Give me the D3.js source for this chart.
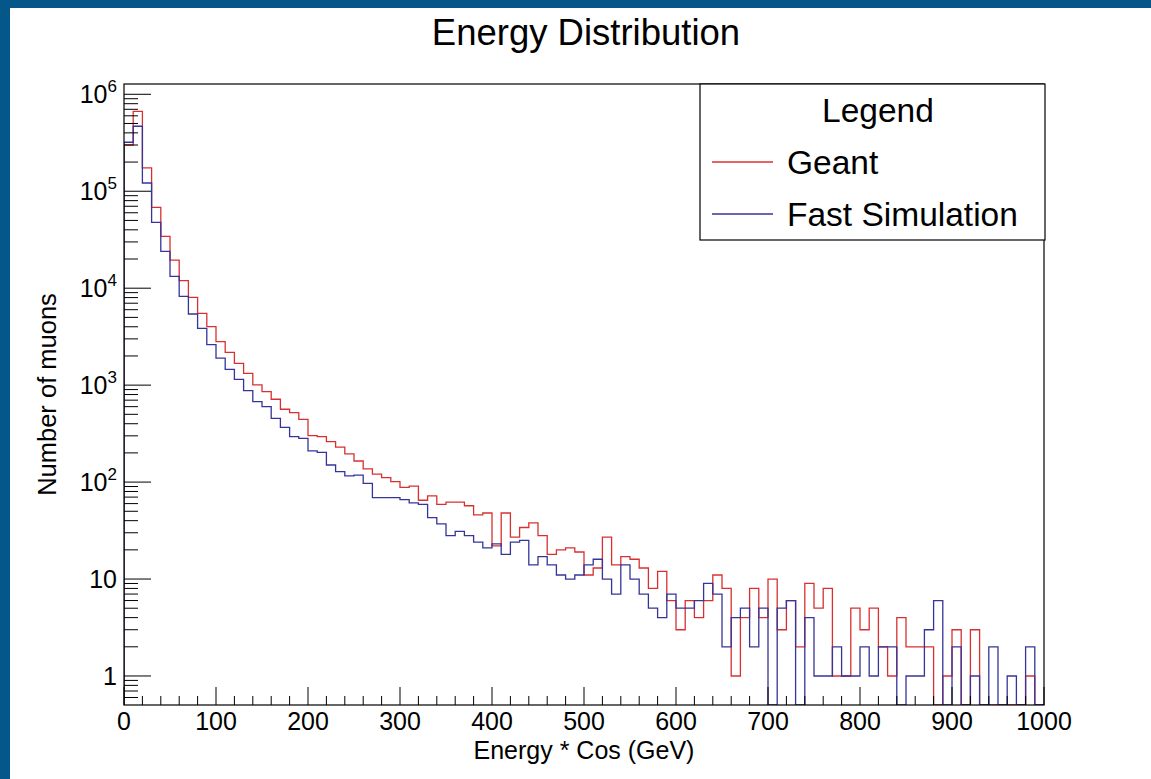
<!DOCTYPE html>
<html><head><meta charset="utf-8">
<script src="https://cdn.jsdelivr.net/npm/d3@7"></script>
<style>body{margin:0;background:#fff} svg{display:block} text{font-family:"Liberation Sans",Arial,Helvetica,sans-serif;fill:#000}</style>
</head><body><svg id="c" width="1151" height="779"></svg>
<script>
// ---- data ----
const binWidth = 10;
const geant = [
 300000, 667000, 174000, 68200, 34300, 19500, 11950, 8050, 5510, 4010,
 2807, 2181, 1680, 1325, 1004, 857, 715, 564, 521, 444,
 302, 294, 261, 229, 195, 165, 137, 121, 111, 101,
 88, 91, 65, 72, 59, 62, 62, 57, 46, 48,
 22, 48, 27, 34, 38, 28, 18, 20, 21, 19,
 11, 13, 27, 14, 17, 16, 13, 8, 12, 6,
 3, 6, 4, 6, 11, 8, 1, 4, 8, 4,
 10, 3, 6, 2, 9, 5, 8, 1, 1, 5,
 3, 5, 2, 1, 4, 2, 2, 2, 0, 1,
 3, 0, 3, 0, 0, 0, 0, 0, 1, 0
];
const fastSim = [
 320000, 468000, 121600, 47800, 24000, 13270, 8250, 5420, 3855, 2620,
 1900, 1456, 1149, 877, 676, 600, 455, 367, 294, 283,
 210, 203, 150, 128, 116, 118, 97, 69, 69, 69,
 66, 61, 59, 43, 37, 28, 31, 28, 24, 21,
 23, 18, 24, 25, 14, 17, 14, 11, 10, 11,
 14, 16, 10, 7, 14, 10, 7, 5, 4, 7,
 5, 5, 6, 9, 7, 2, 4, 5, 2, 5,
 0, 5, 6, 0, 4, 1, 1, 2, 1, 1,
 2, 1, 2, 2, 0, 1, 1, 3, 6, 0,
 2, 0, 1, 0, 2, 0, 1, 0, 2, 0
];
const xTicks = [0,100,200,300,400,500,600,700,800,900,1000];
const yTickExps = [0,1,2,3,4,5,6];
const seriesNames = ["Geant","Fast Simulation"];
const seriesColors = ["#d83030","#34349a"];

// ---- layout ----
const svg = d3.select("#c");
const W = 1151, H = 779;
const L = 124, R = 1044, T = 84, B = 705;

svg.append("rect").attr("width",W).attr("height",H).attr("fill","#05578a");
svg.append("rect").attr("x",10).attr("y",8).attr("width",W-10).attr("height",H-8).attr("fill","#fff");

const x = d3.scaleLinear().domain([0,1000]).range([L,R]);
const y = d3.scaleLog().domain([0.502,1.277e6]).range([B,T]).clamp(true);

svg.append("clipPath").attr("id","clip").append("rect")
  .attr("x",L).attr("y",T).attr("width",R-L).attr("height",B-T);

function histPath(vals){
  const yb = y.range()[0];
  let p = `M${x(0)},${yb}`;
  vals.forEach((v,i)=>{
    const yy = v>0 ? y(v) : yb;
    p += `V${yy}H${x((i+1)*binWidth)}`;
  });
  p += `V${yb}`;
  return p;
}
const g = svg.append("g").attr("clip-path","url(#clip)");
[geant, fastSim].forEach((vals,k)=>{
  g.append("path").attr("d",histPath(vals)).attr("fill","none")
   .attr("stroke",seriesColors[k]).attr("stroke-width",1.3);
});

// frame
svg.append("rect").attr("x",L).attr("y",T).attr("width",R-L).attr("height",B-T)
  .attr("fill","none").attr("stroke","#000").attr("stroke-width",1.2);

// x axis ticks
const xMinor = d3.range(0,1001,20);
xMinor.forEach(v=>{
  const major = v%100===0;
  svg.append("line").attr("x1",x(v)).attr("x2",x(v))
    .attr("y1",B).attr("y2",B-(major?18:9)).attr("stroke","#000").attr("stroke-width",1);
});
xTicks.forEach(v=>{
  svg.append("text").attr("x",x(v)).attr("y",730).attr("text-anchor","middle")
    .attr("font-size",25).text(v);
});
svg.append("text").attr("x",(L+R)/2).attr("y",759).attr("text-anchor","middle")
  .attr("font-size",25).text("Energy * Cos (GeV)");

// y axis ticks
const [ymin,ymax] = y.domain();
for(let d=-1; d<=6; d++){
  for(let k=1;k<=9;k++){
    const v = k*Math.pow(10,d);
    if(v<ymin||v>ymax) continue;
    svg.append("line").attr("x1",L).attr("x2",L+(k===1?27:14))
      .attr("y1",y(v)).attr("y2",y(v)).attr("stroke","#000").attr("stroke-width",1);
  }
}
yTickExps.forEach(e=>{
  const t = svg.append("text").attr("x",117).attr("y",y(Math.pow(10,e))+9)
    .attr("text-anchor","end").attr("font-size",25);
  if(e===0) t.text("1");
  else if(e===1) t.text("10");
  else {
    t.append("tspan").text("10");
    t.append("tspan").attr("dy",-11).attr("font-size",17).text(e);
  }
});
svg.append("text").attr("transform",`translate(56,${(T+B)/2}) rotate(-90)`)
  .attr("text-anchor","middle").attr("font-size",25.5).text("Number of muons");

// title
svg.append("text").attr("x",586).attr("y",45).attr("text-anchor","middle")
  .attr("font-size",36.5).text("Energy Distribution");

// legend
svg.append("rect").attr("x",700).attr("y",T).attr("width",R+1-700).attr("height",240-T)
  .attr("fill","#fff").attr("stroke","#000").attr("stroke-width",1.2);
svg.append("text").attr("x",878).attr("y",122).attr("text-anchor","middle")
  .attr("font-size",33.5).text("Legend");
const legY = [162,214];
seriesNames.forEach((n,k)=>{
  svg.append("line").attr("x1",712).attr("x2",773).attr("y1",legY[k]).attr("y2",legY[k])
    .attr("stroke",seriesColors[k]).attr("stroke-width",1.3);
  svg.append("text").attr("x",787).attr("y",legY[k]+12).attr("font-size",33.5).text(n);
});
</script></body></html>
